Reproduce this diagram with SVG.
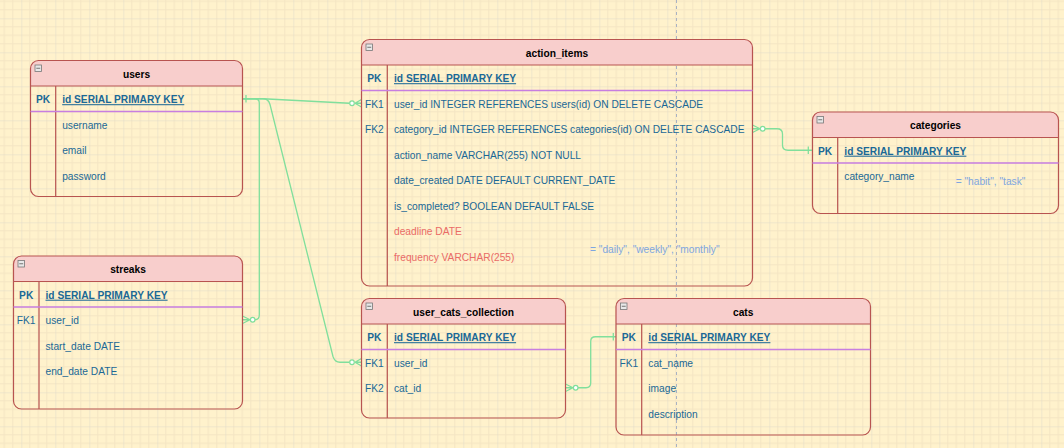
<svg xmlns="http://www.w3.org/2000/svg" width="1064" height="448" viewBox="0 0 1064 448">
<style>
text{font-family:"Liberation Sans",Arial,sans-serif;font-size:10.2px;fill:#1a6896}
.title{font-weight:bold;fill:#000;text-anchor:middle}
.pk{font-weight:bold;text-anchor:middle}
.pkf{font-weight:bold;text-decoration:underline}
.fk{text-anchor:middle}
.red{fill:#ea6b66}
.note{fill:#7ea6e0}
.hdr{fill:#f8cecc;stroke:none}
.box{fill:none;stroke:#b85450;stroke-width:1.2}
.ln{stroke:#b85450;stroke-width:1.2}
.pkl{stroke:#c77ee0;stroke-width:1.5}
.ico{fill:#e8e8e8;stroke:#777;stroke-width:0.8}
.icl{stroke:#555;stroke-width:0.8}
.con{fill:none;stroke:#80df9c;stroke-width:1.3}
.cir{fill:#fff;stroke:#80df9c;stroke-width:1.2}
</style>
<defs>
<pattern id="grid" patternUnits="userSpaceOnUse" x="21.3" y="18.3" width="34" height="34">
<rect width="34" height="34" fill="#fff2cc"/>
<path d="M8.5 0V34M17 0V34M25.5 0V34M0 8.5H34M0 17H34M0 25.5H34" stroke="#f4e5c3" stroke-width="1" fill="none"/>
<path d="M0 0V34M0 0H34" stroke="#e0dbcb" stroke-width="1" fill="none"/>
</pattern>
</defs>
<rect width="1064" height="448" fill="url(#grid)"/>
<line x1="676.5" y1="0" x2="676.5" y2="448" stroke="#a9b2c3" stroke-width="1" stroke-dasharray="3 3"/>

<g id="connectors">
<path class="con" d="M243 98.75H263L349.5 103.25"/>
<path class="con" d="M246 95V102.5"/>
<path class="con" d="M355 103.25L361.5 99.5M355 103.25H361.5M355 103.25L361.5 107"/>
<circle class="cir" cx="352" cy="103.25" r="2.3"/>
<path class="con" d="M243 98.75H255Q259.3 98.75 259.3 103V315Q259.3 319.75 255 319.75"/>
<path class="con" d="M250 319.75L242.5 316M250 319.75H242.5M250 319.75L242.5 323.5"/>
<circle class="cir" cx="252.7" cy="319.75" r="2.3"/>
<path class="con" d="M243 98.75H263Q268.5 98.75 270 104.5L333 356.5Q334.8 362.25 340 362.25H349.5"/>
<path class="con" d="M355 362.25L361.5 358.5M355 362.25H361.5M355 362.25L361.5 366"/>
<circle class="cir" cx="352" cy="362.25" r="2.3"/>
<path class="con" d="M760 128.75L752.5 125M760 128.75H752.5M760 128.75L752.5 132.5"/>
<circle class="cir" cx="762.7" cy="128.75" r="2.3"/>
<path class="con" d="M765 128.75H777Q782.5 128.75 782.5 134V145Q782.5 150.25 788 150.25H812.5"/>
<path class="con" d="M808.3 146.5V154"/>
<path class="con" d="M573 387.75L565.5 384M573 387.75H565.5M573 387.75L565.5 391.5"/>
<circle class="cir" cx="575.7" cy="387.75" r="2.3"/>
<path class="con" d="M578 387.75H586Q590.7 387.75 590.7 383V341.5Q590.7 336.75 595.5 336.75H616"/>
<path class="con" d="M613.3 333V340.5"/>
</g>

<g id="users">
<path class="hdr" d="M30.5 86V68.5Q30.5 60.5 38.5 60.5H234.5Q242.5 60.5 242.5 68.5V86Z"/>
<rect class="box" x="30.5" y="60.5" width="212" height="136" rx="8"/>
<line class="ln" x1="30.5" y1="86" x2="242.5" y2="86"/>
<line class="ln" x1="55.7" y1="86" x2="55.7" y2="196.5"/>
<line class="pkl" x1="30.5" y1="111.5" x2="242.5" y2="111.5"/>
<rect class="ico" x="35" y="65" width="6.5" height="6.5"/><line class="icl" x1="36.3" y1="68.25" x2="40.2" y2="68.25"/>
<text class="title" x="136.5" y="77.6">users</text>
<text class="pk" x="43" y="103.2">PK</text>
<text class="pkf" x="62.2" y="103.2">id SERIAL PRIMARY KEY</text>
<text x="62.2" y="128.7">username</text>
<text x="62.2" y="154.2">email</text>
<text x="62.2" y="179.7">password</text>
</g>

<g id="action_items">
<path class="hdr" d="M361.5 65V47.5Q361.5 39.5 369.5 39.5H744.5Q752.5 39.5 752.5 47.5V65Z"/>
<rect class="box" x="361.5" y="39.5" width="391" height="246.5" rx="8"/>
<line class="ln" x1="361.5" y1="65" x2="752.5" y2="65"/>
<line class="ln" x1="387.3" y1="65" x2="387.3" y2="286"/>
<line class="pkl" x1="361.5" y1="90.5" x2="752.5" y2="90.5"/>
<rect class="ico" x="366" y="44" width="6.5" height="6.5"/><line class="icl" x1="367.3" y1="47.25" x2="371.2" y2="47.25"/>
<text class="title" x="557" y="56.6">action_items</text>
<text class="pk" x="374.4" y="82.2">PK</text>
<text class="pkf" x="394" y="82.2">id SERIAL PRIMARY KEY</text>
<text class="fk" x="374.4" y="107.7">FK1</text>
<text x="394" y="107.7">user_id INTEGER REFERENCES users(id) ON DELETE CASCADE</text>
<text class="fk" x="374.4" y="133.2">FK2</text>
<text x="394" y="133.2">category_id INTEGER REFERENCES categories(id) ON DELETE CASCADE</text>
<text x="394" y="158.7">action_name VARCHAR(255) NOT NULL</text>
<text x="394" y="184.2">date_created DATE DEFAULT CURRENT_DATE</text>
<text x="394" y="209.7">is_completed? BOOLEAN DEFAULT FALSE</text>
<text class="red" x="394" y="235.2">deadline DATE</text>
<text class="red" x="394" y="260.7">frequency VARCHAR(255)</text>
<text class="note" x="590" y="252.5">= "daily", "weekly", "monthly"</text>
</g>

<g id="categories">
<path class="hdr" d="M812.5 137.5V120Q812.5 112 820.5 112H1050.5Q1058.5 112 1058.5 120V137.5Z"/>
<rect class="box" x="812.5" y="112" width="246" height="101.5" rx="8"/>
<line class="ln" x1="812.5" y1="137.5" x2="1058.5" y2="137.5"/>
<line class="ln" x1="837.7" y1="137.5" x2="837.7" y2="213.5"/>
<line class="pkl" x1="812.5" y1="163" x2="1058.5" y2="163"/>
<rect class="ico" x="817" y="116.5" width="6.5" height="6.5"/><line class="icl" x1="818.3" y1="119.75" x2="822.2" y2="119.75"/>
<text class="title" x="935.5" y="129.1">categories</text>
<text class="pk" x="825" y="154.7">PK</text>
<text class="pkf" x="844.3" y="154.7">id SERIAL PRIMARY KEY</text>
<text x="844.3" y="180.2">category_name</text>
<text class="note" x="955.7" y="184.5">= "habit", "task"</text>
</g>

<g id="streaks">
<path class="hdr" d="M13.5 281.5V264Q13.5 256 21.5 256H234.5Q242.5 256 242.5 264V281.5Z"/>
<rect class="box" x="13.5" y="256" width="229" height="153" rx="8"/>
<line class="ln" x1="13.5" y1="281.5" x2="242.5" y2="281.5"/>
<line class="ln" x1="39" y1="281.5" x2="39" y2="409"/>
<line class="pkl" x1="13.5" y1="307" x2="242.5" y2="307"/>
<rect class="ico" x="18" y="260.5" width="6.5" height="6.5"/><line class="icl" x1="19.3" y1="263.75" x2="23.2" y2="263.75"/>
<text class="title" x="128" y="273.1">streaks</text>
<text class="pk" x="26.2" y="298.7">PK</text>
<text class="pkf" x="45.5" y="298.7">id SERIAL PRIMARY KEY</text>
<text class="fk" x="26.2" y="324.2">FK1</text>
<text x="45.5" y="324.2">user_id</text>
<text x="45.5" y="349.7">start_date DATE</text>
<text x="45.5" y="375.2">end_date DATE</text>
</g>

<g id="user_cats_collection">
<path class="hdr" d="M361.5 324V306.5Q361.5 298.5 369.5 298.5H557.5Q565.5 298.5 565.5 306.5V324Z"/>
<rect class="box" x="361.5" y="298.5" width="204" height="119.5" rx="8"/>
<line class="ln" x1="361.5" y1="324" x2="565.5" y2="324"/>
<line class="ln" x1="387.3" y1="324" x2="387.3" y2="418"/>
<line class="pkl" x1="361.5" y1="349.5" x2="565.5" y2="349.5"/>
<rect class="ico" x="366" y="303" width="6.5" height="6.5"/><line class="icl" x1="367.3" y1="306.25" x2="371.2" y2="306.25"/>
<text class="title" x="463.5" y="315.6">user_cats_collection</text>
<text class="pk" x="374.4" y="341.2">PK</text>
<text class="pkf" x="394" y="341.2">id SERIAL PRIMARY KEY</text>
<text class="fk" x="374.4" y="366.7">FK1</text>
<text x="394" y="366.7">user_id</text>
<text class="fk" x="374.4" y="392.2">FK2</text>
<text x="394" y="392.2">cat_id</text>
</g>

<g id="cats">
<path class="hdr" d="M616 324V306.5Q616 298.5 624 298.5H862.5Q870.5 298.5 870.5 306.5V324Z"/>
<rect class="box" x="616" y="298.5" width="254.5" height="136.5" rx="8"/>
<line class="ln" x1="616" y1="324" x2="870.5" y2="324"/>
<line class="ln" x1="641.7" y1="324" x2="641.7" y2="435"/>
<line class="pkl" x1="616" y1="349.5" x2="870.5" y2="349.5"/>
<rect class="ico" x="620.5" y="303" width="6.5" height="6.5"/><line class="icl" x1="621.8" y1="306.25" x2="625.7" y2="306.25"/>
<text class="title" x="743.2" y="315.6">cats</text>
<text class="pk" x="628.8" y="341.2">PK</text>
<text class="pkf" x="648.3" y="341.2">id SERIAL PRIMARY KEY</text>
<text class="fk" x="628.8" y="366.7">FK1</text>
<text x="648.3" y="366.7">cat_name</text>
<text x="648.3" y="392.2">image</text>
<text x="648.3" y="417.7">description</text>
</g>
</svg>
